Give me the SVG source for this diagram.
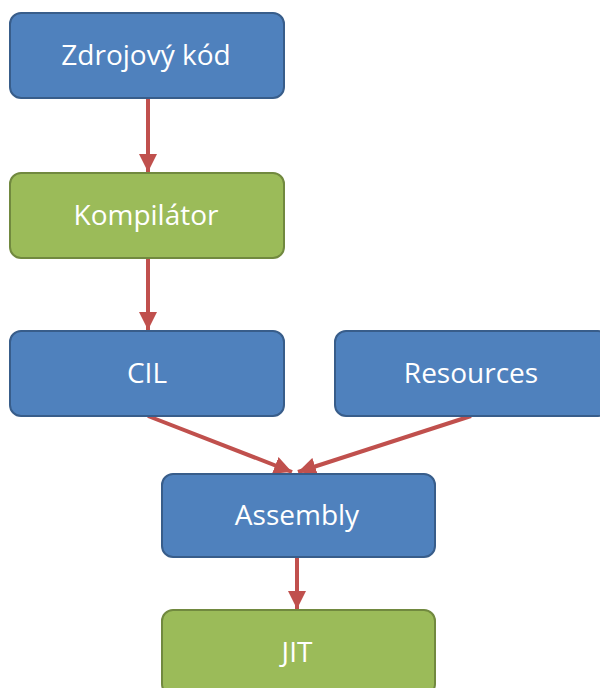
<svg xmlns="http://www.w3.org/2000/svg" width="600" height="688" viewBox="0 0 600 688">
  <defs>
    <marker id="arrow" viewBox="0 0 10 10" refX="10" refY="5" markerWidth="4.5" markerHeight="4.5" orient="auto" markerUnits="strokeWidth">
      <path d="M0,0 L10,5 L0,10 z" fill="#C0504D"/>
    </marker>
  </defs>
  <style>
    .blue { fill: #4F81BD; stroke: #385D8A; stroke-width: 2; }
    .green { fill: #9BBB59; stroke: #71893F; stroke-width: 2; }
    .label { fill: #FFFFFF; font-family: "Open Sans", "Liberation Sans", sans-serif; font-size: 28px; text-anchor: middle; }
    .edge { stroke: #C0504D; stroke-width: 4; fill: none; marker-end: url(#arrow); }
  </style>
  <rect width="600" height="688" fill="#FFFFFF"/>

  <g id="connectors">
    <line class="edge" x1="148" y1="98" x2="148" y2="172"/>
    <line class="edge" x1="148" y1="258" x2="148" y2="330"/>
    <line class="edge" x1="148" y1="416" x2="292" y2="472"/>
    <line class="edge" x1="471" y1="416" x2="298" y2="472"/>
    <line class="edge" x1="297" y1="557" x2="297" y2="609"/>
  </g>

  <g id="zdrojovy-kod">
    <rect class="blue" x="10" y="13" width="274" height="85" rx="11"/>
    <text class="label" x="146" y="65">Zdrojový kód</text>
  </g>
  <g id="kompilator">
    <rect class="green" x="10" y="173" width="274" height="85" rx="11"/>
    <text class="label" x="146" y="225">Kompilátor</text>
  </g>
  <g id="cil">
    <rect class="blue" x="10" y="331" width="274" height="85" rx="11"/>
    <text class="label" x="147" y="383">CIL</text>
  </g>
  <g id="resources">
    <rect class="blue" x="335" y="331" width="274" height="85" rx="11"/>
    <text class="label" x="471" y="383">Resources</text>
  </g>
  <g id="assembly">
    <rect class="blue" x="162" y="474" width="273" height="83" rx="11"/>
    <text class="label" x="297" y="525">Assembly</text>
  </g>
  <g id="jit">
    <rect class="green" x="162" y="610" width="273" height="85" rx="11"/>
    <text class="label" x="297" y="662">JIT</text>
  </g>
</svg>
